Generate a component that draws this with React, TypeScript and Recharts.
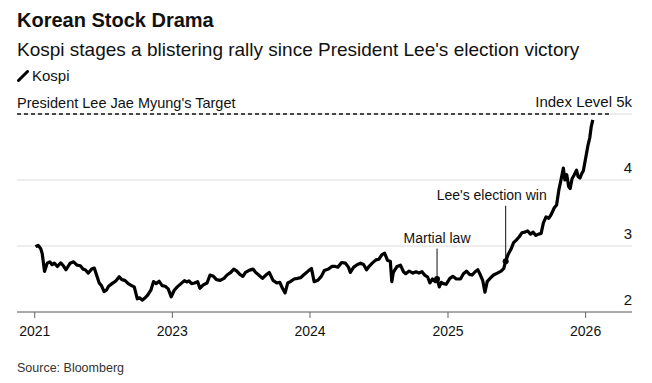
import { LineChart, Line, XAxis, YAxis, CartesianGrid, ReferenceLine, ReferenceDot } from "recharts";

// Kospi closes (index points)
const dates = [
  "2022-01-03", "2022-01-10", "2022-01-17", "2022-01-21", "2022-01-27", "2022-02-03", "2022-02-10", "2022-02-16",
  "2022-02-22", "2022-03-02", "2022-03-11", "2022-03-18", "2022-03-25", "2022-04-05", "2022-04-14", "2022-04-23",
  "2022-05-02", "2022-05-09", "2022-05-15", "2022-05-23", "2022-06-01", "2022-06-08", "2022-06-14", "2022-06-21",
  "2022-06-27", "2022-07-04", "2022-07-10", "2022-07-16", "2022-07-25", "2022-08-04", "2022-08-13", "2022-08-20",
  "2022-08-28", "2022-09-06", "2022-09-15", "2022-09-22", "2022-09-30", "2022-10-06", "2022-10-13", "2022-10-21",
  "2022-10-28", "2022-11-05", "2022-11-12", "2022-11-19", "2022-11-27", "2022-12-05", "2022-12-13", "2022-12-21",
  "2022-12-29",
  "2023-01-06", "2023-01-14", "2023-01-24", "2023-02-02", "2023-02-08", "2023-02-14", "2023-02-21", "2023-03-01",
  "2023-03-09", "2023-03-15", "2023-03-24", "2023-04-03", "2023-04-11", "2023-04-20", "2023-04-28", "2023-05-08",
  "2023-05-18", "2023-05-26", "2023-06-05", "2023-06-13", "2023-06-21", "2023-06-29", "2023-07-07", "2023-07-14",
  "2023-07-25", "2023-08-03", "2023-08-10", "2023-08-18", "2023-08-28", "2023-09-06", "2023-09-15", "2023-09-25",
  "2023-10-05", "2023-10-13", "2023-10-20", "2023-10-27", "2023-11-03", "2023-11-10", "2023-11-20", "2023-11-29",
  "2023-12-07", "2023-12-15", "2023-12-27",
  "2024-01-05", "2024-01-12", "2024-01-22", "2024-01-31", "2024-02-08", "2024-02-19", "2024-02-28", "2024-03-08",
  "2024-03-15", "2024-03-25", "2024-04-04", "2024-04-12", "2024-04-17", "2024-04-26", "2024-05-06", "2024-05-14",
  "2024-05-22", "2024-05-30", "2024-06-07", "2024-06-14", "2024-06-24", "2024-07-02", "2024-07-10", "2024-07-17",
  "2024-07-25", "2024-08-01", "2024-08-05", "2024-08-09", "2024-08-19", "2024-08-28", "2024-09-05", "2024-09-11",
  "2024-09-20", "2024-09-30", "2024-10-08", "2024-10-16", "2024-10-24", "2024-10-31", "2024-11-08", "2024-11-14",
  "2024-11-21", "2024-11-28", "2024-12-03", "2024-12-09", "2024-12-14", "2024-12-20", "2024-12-27",
  "2025-01-06", "2025-01-14", "2025-01-23", "2025-02-03", "2025-02-11", "2025-02-19", "2025-02-27", "2025-03-06",
  "2025-03-14", "2025-03-21", "2025-03-28", "2025-04-03", "2025-04-09", "2025-04-15", "2025-04-24", "2025-05-02",
  "2025-05-12", "2025-05-22", "2025-05-29", "2025-06-03", "2025-06-10", "2025-06-17", "2025-06-24", "2025-07-01",
  "2025-07-09", "2025-07-16", "2025-07-24", "2025-07-31", "2025-08-08", "2025-08-15", "2025-08-22", "2025-08-29",
  "2025-09-05", "2025-09-11", "2025-09-18", "2025-09-25", "2025-10-01", "2025-10-10", "2025-10-16", "2025-10-22",
  "2025-10-28", "2025-11-03", "2025-11-07", "2025-11-12", "2025-11-17", "2025-11-21", "2025-11-26", "2025-12-02",
  "2025-12-08", "2025-12-12", "2025-12-17", "2025-12-22", "2025-12-26",
  "2026-01-02", "2026-01-07", "2026-01-12", "2026-01-16", "2026-01-20",
];

const kospi = [
  2990, 3010, 2960, 2880, 2615, 2740, 2760, 2715,
  2740, 2690, 2745, 2700, 2640, 2740, 2760, 2710,
  2700, 2650, 2640, 2590, 2650, 2665, 2560, 2440,
  2400, 2310, 2330, 2390, 2430, 2470, 2535, 2490,
  2480, 2430, 2400, 2380, 2200, 2215, 2180, 2215,
  2260, 2330, 2460, 2430, 2465, 2400, 2390, 2350,
  2230,
  2330, 2380, 2430, 2475, 2455, 2470, 2430, 2440,
  2460, 2360, 2410, 2440, 2560, 2540, 2490, 2480,
  2510, 2560, 2600, 2650, 2620, 2570, 2540, 2600,
  2635, 2650, 2600, 2560, 2510, 2560, 2600, 2480,
  2440, 2450, 2360, 2290, 2440, 2460, 2500, 2510,
  2520, 2560, 2620,
  2660, 2460, 2480, 2540, 2630, 2650, 2690, 2690,
  2680, 2750, 2740, 2680, 2600, 2680, 2720, 2740,
  2720, 2640, 2700, 2740, 2790, 2800, 2870, 2890,
  2780, 2770, 2460, 2600, 2690, 2710, 2610, 2580,
  2620, 2590, 2610, 2590, 2610, 2560, 2530, 2440,
  2500, 2460, 2500, 2380, 2450, 2430, 2420,
  2510, 2540, 2500, 2500, 2580, 2620, 2570, 2560,
  2610, 2640, 2560, 2480, 2300, 2460, 2520, 2560,
  2590, 2620, 2660, 2770, 2880, 2950, 3050, 3090,
  3140, 3200, 3210, 3230, 3180, 3210, 3160, 3180,
  3190, 3350, 3440, 3420, 3470, 3580, 3620, 3850,
  4010, 4180, 4000, 4080, 3900, 3870, 4020, 4080,
  4150, 4050, 4030, 4100, 4140,
  4360, 4520, 4640, 4810, 4910,
];

const yearTicks = ["2022-01-01", "2023-01-01", "2024-01-01", "2025-01-01", "2026-01-01"];
const yearLabels = ["2021", "2023", "2024", "2025", "2026"];
const levelTicks = [2000, 3000, 4000, 5000];
const levelLabels = ["2", "3", "4", "Index Level 5k"];

const eventDates = ["2024-12-03", "2025-06-03"];
const eventValues = [2500, 2770];
const eventNames = ["Martial law", "Lee's election win"];

const targetLevel = 5000;
const targetLabel = "President Lee Jae Myung's Target";

const toTs = (d: string) => Date.parse(d + "T00:00:00Z");

const data = dates.map((d, i) => ({ t: toTs(d), v: kospi[i] }));

const xDomain = [toTs("2021-11-15"), toTs("2026-05-04")];
const targetEnd = toTs("2026-03-06");
// how high the connector runs above each event, in index points
const eventLabelTops = [2960, 3610];
const eventLabelShift = [0, -14];

const FONT = "'Liberation Sans', Arial, Helvetica, sans-serif";

const LevelLabel = ({ viewBox, value }: any) => (
  <text x={viewBox.x + viewBox.width} y={viewBox.y - 7} textAnchor="end" fontSize={15} fill="#111">
    {value}
  </text>
);

const EventLabel = ({ viewBox, value, shift }: any) => (
  <text x={viewBox.x + shift} y={viewBox.y - 6} textAnchor="middle" fontSize={14} fill="#111">
    {value}
  </text>
);

const TargetLabel = ({ viewBox }: any) => (
  <text x={viewBox.x} y={viewBox.y - 6} textAnchor="start" fontSize={14.5} fill="#111">
    {targetLabel}
  </text>
);

const App = () => {
  return (
    <div style={{ position: "absolute", left: 0, top: 0, width: 652, height: 383, background: "#fff", fontFamily: FONT, color: "#111" }}>
      <div style={{ position: "absolute", left: 17, top: 8, fontSize: 20, fontWeight: 700, lineHeight: "24px" }}>
        Korean Stock Drama
      </div>
      <div style={{ position: "absolute", left: 17, top: 38, fontSize: 19, lineHeight: "24px" }}>
        Kospi stages a blistering rally since President Lee's election victory
      </div>
      <div style={{ position: "absolute", left: 17, top: 66, fontSize: 15, lineHeight: "20px", display: "flex", alignItems: "center" }}>
        <svg width={12} height={12} style={{ marginRight: 3 }}>
          <line x1={1.5} y1={10.5} x2={10.5} y2={1.5} stroke="#000" strokeWidth={3} strokeLinecap="round" />
        </svg>
        Kospi
      </div>
      <div style={{ position: "absolute", left: 17, top: 360, fontSize: 12.5, lineHeight: "16px", color: "#333" }}>
        Source: Bloomberg
      </div>
      <div style={{ position: "absolute", left: 0, top: 0 }}>
        <LineChart width={652} height={383} data={data} margin={{ top: 114, right: 20, bottom: 41, left: 17 }}>
          <CartesianGrid vertical={false} stroke="#dcdcdc" />
          <XAxis
            dataKey="t"
            type="number"
            scale="time"
            domain={xDomain}
            ticks={yearTicks.map(toTs)}
            tickFormatter={(v: number) => yearLabels[yearTicks.map(toTs).indexOf(v)]}
            height={30}
            tickSize={6}
            tickMargin={8}
            axisLine={{ stroke: "#666" }}
            tickLine={{ stroke: "#666" }}
            tick={{ fontSize: 14, fill: "#111" }}
            allowDataOverflow
          />
          <YAxis orientation="right" domain={[2000, 5000]} ticks={levelTicks} hide allowDataOverflow />
          {levelTicks.map((lv, i) => (
            <ReferenceLine key={"y" + i} y={lv} stroke="none" label={<LevelLabel value={levelLabels[i]} />} />
          ))}
          <ReferenceLine
            segment={[{ x: xDomain[0], y: targetLevel }, { x: targetEnd, y: targetLevel }]}
            stroke="#111"
            strokeWidth={1.5}
            strokeDasharray="4 3"
            label={<TargetLabel />}
          />
          {eventDates.map((d, i) => (
            <ReferenceLine
              key={"l" + i}
              segment={[{ x: toTs(d), y: eventValues[i] }, { x: toTs(d), y: eventLabelTops[i] }]}
              stroke="#111"
              strokeWidth={1}
            />
          ))}
          <Line type="linear" dataKey="v" stroke="#000" strokeWidth={3.2} dot={false} strokeLinejoin="round" isAnimationActive={false} />
          {eventDates.map((d, i) => (
            <ReferenceDot key={"d" + i} x={toTs(d)} y={eventValues[i]} r={3} fill="#000" stroke="none" />
          ))}
          {eventDates.map((d, i) => (
            <ReferenceDot
              key={"t" + i}
              x={toTs(d)}
              y={eventLabelTops[i]}
              r={0}
              fill="none"
              stroke="none"
              label={<EventLabel value={eventNames[i]} shift={eventLabelShift[i]} />}
            />
          ))}
        </LineChart>
      </div>
    </div>
  );
};

export default App;
